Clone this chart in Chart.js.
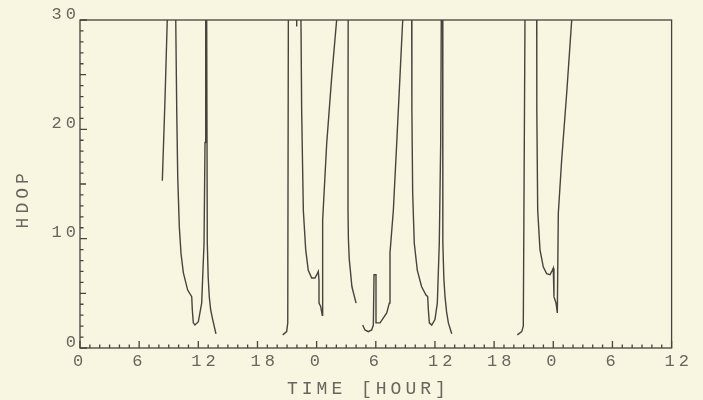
<!DOCTYPE html>
<html><head><meta charset="utf-8">
<script src="https://cdn.jsdelivr.net/npm/chart.js@4"></script>
<style>html,body{margin:0;padding:0;background:#f8f6e1;}</style>
</head><body>
<canvas id="c" width="703" height="400"></canvas>
<script>
// HDOP vs time; null entries separate the plotted segments
const hours = [
  8.35, 8.62, 8.85, null,
  9.71, 9.81, 9.91, 10.07, 10.25, 10.48, 10.92, 11.33, 11.39, 11.49, 11.66, 12.0, 12.34, 12.58, 12.68, 12.75, null,
  12.85, 12.91, 13.0, 13.11, 13.25, 13.46, 13.79, null,
  20.56, 20.96, 21.07, 21.13, null,
  21.98, 21.98, null,
  22.41, 22.48, 22.65, 22.89, 23.15, 23.5, 23.83, 24.07, 24.17, 24.24, 24.24, 24.41, 24.57, 24.61, 25.02, 25.53, 26.03, null,
  27.2, 27.18, 27.18, 27.22, 27.31, 27.58, 28.0, null,
  28.67, 28.9, 29.24, 29.58, 29.75, 29.82, 30.02, 30.02, 30.43, 31.11, 31.37, 31.44, 31.78, 32.12, 32.45, 32.73, null,
  33.64, 33.66, 33.74, 33.9, 34.21, 34.65, 35.09, 35.26, 35.33, 35.43, 35.67, 36.0, 36.24, 36.44, 36.58, 36.64, null,
  36.78, 36.8, 36.9, 37.02, 37.18, 37.36, 37.7, null,
  44.35, 44.8, 44.96, 45.13, null,
  46.32, 46.33, 46.42, 46.65, 46.99, 47.33, 47.67, 47.9, 48.0, 48.07, 48.28, 48.41, 48.51, 48.85, 49.36, 49.87
];
const hdop = [
  15.3, 22.7, 30, null,
  30, 21.8, 15.7, 11.1, 8.6, 6.9, 5.3, 4.7, 3.5, 2.3, 2.1, 2.4, 4.1, 9.6, 18.8, 30, null,
  30, 9.6, 6.5, 4.7, 3.5, 2.6, 1.3, null,
  1.2, 1.5, 2.3, 30, null,
  30, 29.4, null,
  30, 21.8, 12.6, 9.0, 7.1, 6.4, 6.4, 6.8, 7.0, 6.2, 4.1, 3.8, 3.0, 11.7, 18.7, 24.8, 30, null,
  30, 21.8, 12.6, 10.0, 8.1, 5.6, 4.1, null,
  2.1, 1.65, 1.5, 1.65, 2.1, 6.7, 6.7, 2.3, 2.3, 3.2, 4.1, 8.7, 12.6, 18.7, 24.8, 30, null,
  30, 21.8, 14.2, 9.6, 7.1, 5.6, 4.85, 4.7, 3.5, 2.3, 2.1, 2.6, 4.1, 9.6, 18.7, 30, null,
  30, 9.6, 6.4, 4.7, 3.3, 2.3, 1.3, null,
  1.2, 1.5, 2.0, 30, null,
  30, 21.8, 12.6, 9.0, 7.4, 6.8, 6.7, 7.1, 7.3, 4.7, 4.1, 3.2, 12.3, 17.2, 23.3, 30
];
const xTickLabels = ['0','6','12','18','0','6','12','18','0','6','12'];
const yTickLabels = ['0','10','20','30'];
const xTitle = 'TIME [HOUR] ';
const yTitle = 'HDOP  ';

const BG = '#f8f6e1';
const INK = '#48433e';
const TXT = '#6a655e';
const FONT = 'Liberation Mono';
const SPACING = '4px';

const points = hours.map((h, i) => ({x: h, y: hdop[i]}));

const decor = {
  id: 'decor',
  beforeLayout(chart) { chart.ctx.letterSpacing = SPACING; },
  beforeDraw(chart) {
    const ctx = chart.ctx;
    ctx.save();
    ctx.fillStyle = BG;
    ctx.fillRect(0, 0, chart.width, chart.height);
    ctx.restore();
    ctx.letterSpacing = SPACING;
  },
  afterDraw(chart) {
    const {ctx, chartArea: a, scales: {x, y}} = chart;
    ctx.save();
    ctx.strokeStyle = INK;
    ctx.lineWidth = 1.3;
    ctx.strokeRect(a.left, a.top, a.right - a.left, a.bottom - a.top);
    ctx.beginPath();
    for (let h = x.min; h <= x.max; h += 1) {
      const px = x.getPixelForValue(h);
      const len = h % 6 === 0 ? 7 : 3.5;
      ctx.moveTo(px, a.bottom); ctx.lineTo(px, a.bottom - len);
    }
    for (let v = y.min; v <= y.max; v += 1) {
      const py = y.getPixelForValue(v);
      const len = v % 10 === 0 ? 7 : (v % 5 === 0 ? 6 : 3.5);
      ctx.moveTo(a.left, py); ctx.lineTo(a.left + len, py);
    }
    ctx.stroke();
    ctx.restore();
  }
};

new Chart(document.getElementById('c'), {
  type: 'line',
  data: {
    datasets: [{
      data: points,
      borderColor: INK,
      borderWidth: 1.4,
      pointRadius: 0,
      tension: 0,
      spanGaps: false,
      fill: false
    }]
  },
  options: {
    responsive: false,
    animation: false,
    layout: {padding: {top: 20, right: 31, left: 0, bottom: 0}},
    plugins: {legend: {display: false}, tooltip: {enabled: false}},
    scales: {
      x: {
        type: 'linear', min: 0, max: 60,
        grid: {display: false, drawTicks: false, tickLength: 0},
        border: {display: false},
        ticks: {
          stepSize: 6, autoSkip: false, maxRotation: 0, minRotation: 0,
          align: 'start', labelOffset: -7, padding: 3,
          color: TXT, font: {family: FONT, size: 17},
          callback: (v, i) => xTickLabels[i]
        },
        title: {display: true, text: xTitle, color: TXT, font: {family: FONT, size: 18}, padding: {top: 0, bottom: 0}},
        afterFit: s => { s.height = 52; }
      },
      y: {
        type: 'linear', min: 0, max: 30,
        grid: {display: false, drawTicks: false, tickLength: 0},
        border: {display: false},
        ticks: {
          stepSize: 10, autoSkip: false, labelOffset: -6, padding: 0,
          color: TXT, font: {family: FONT, size: 17},
          callback: (v, i) => yTickLabels[i]
        },
        title: {display: true, text: yTitle, color: TXT, font: {family: FONT, size: 18}, padding: {top: 12, bottom: 0}},
        afterFit: s => { s.width = 80; }
      }
    }
  },
  plugins: [decor]
});
</script>
</body></html>
